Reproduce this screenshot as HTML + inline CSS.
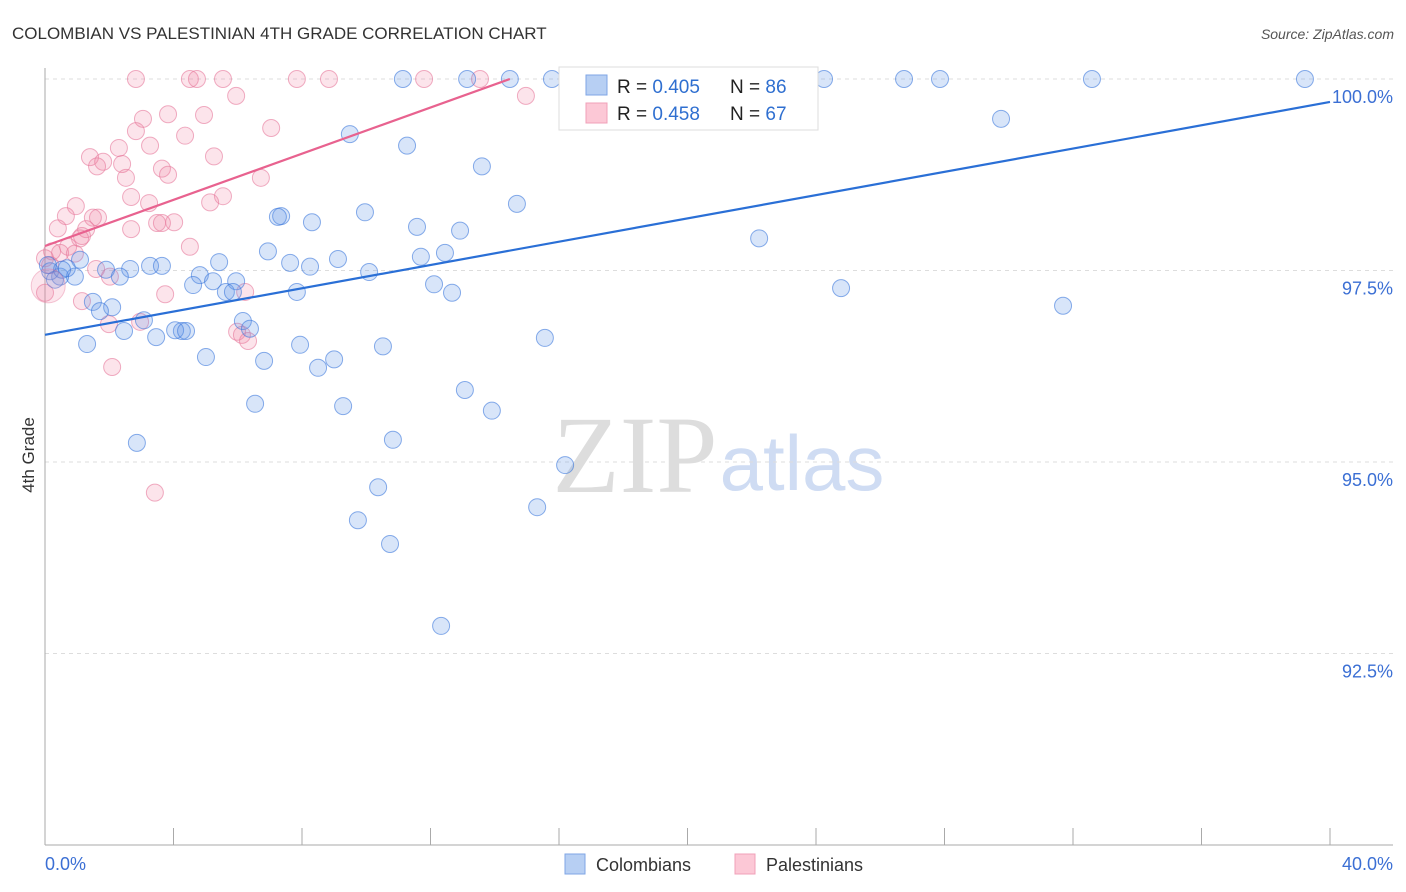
<!DOCTYPE html>
<html><head><meta charset="utf-8"><style>
body{margin:0;background:#fff;font-family:"Liberation Sans",sans-serif}
svg{display:block}
</style></head><body>
<svg id="chart" width="1406" height="892">
<text x="12" y="39" font-size="17" fill="#333">COLOMBIAN VS PALESTINIAN 4TH GRADE CORRELATION CHART</text>
<text x="1394" y="39" font-size="14" fill="#555" font-style="italic" text-anchor="end">Source: ZipAtlas.com</text>
<text x="34" y="455" font-size="17" fill="#333" text-anchor="middle" transform="rotate(-90 34 455)">4th Grade</text>
<g>
<text x="635" y="492" font-size="110" fill="#ddd" font-family="Liberation Serif,serif" text-anchor="middle">ZIP</text>
<text x="802" y="490" font-size="78" fill="#cfdcf3" text-anchor="middle">atlas</text>
</g>
<g id="grid"></g><g id="pts"></g><g id="lines"></g>
<g>
<rect x="559" y="67" width="259" height="63" fill="#fff" stroke="#ddd"/>
<rect x="586" y="75" width="21" height="20" fill="#b7cff3" stroke="#7fa6e6"/>
<rect x="586" y="103" width="21" height="20" fill="#fcc8d6" stroke="#f0a0b8"/>
<text x="617" y="93" font-size="19" fill="#222">R = <tspan fill="#2f6fd0">0.405</tspan></text>
<text x="730" y="93" font-size="19" fill="#222">N = <tspan fill="#2f6fd0">86</tspan></text>
<text x="617" y="120" font-size="19" fill="#222">R = <tspan fill="#2f6fd0">0.458</tspan></text>
<text x="730" y="120" font-size="19" fill="#222">N = <tspan fill="#2f6fd0">67</tspan></text>
</g>
<g>
<rect x="565" y="854" width="20" height="20" fill="#b7cff3" stroke="#7fa6e6"/>
<text x="596" y="871" font-size="18" fill="#333">Colombians</text>
<rect x="735" y="854" width="20" height="20" fill="#fcc8d6" stroke="#f0a0b8"/>
<text x="766" y="871" font-size="18" fill="#333">Palestinians</text>
</g>
<text x="45" y="870" font-size="18" fill="#3b6fd4">0.0%</text>
<text x="1393" y="870" font-size="18" fill="#3b6fd4" text-anchor="end">40.0%</text>
</svg>
<script>
const yTicks=[100,97.5,95,92.5];
const yTickLabels=["100.0%","97.5%","95.0%","92.5%"];
const blueX=[11.14,13.14,14.47,15.78,24.25,26.74,27.86,32.59,39.22,29.76,9.49,11.27,13.60,14.69,9.96,7.35,7.25,8.31,11.58,12.92,22.23,6.94,12.45,11.70,9.12,5.42,1.09,3.27,3.64,7.63,8.25,2.65,10.09,1.90,4.82,5.23,5.95,2.33,0.93,0.47,0.16,0.31,0.68,4.61,12.11,7.84,12.67,5.63,5.85,24.78,31.69,1.49,2.09,1.71,3.08,6.16,6.38,4.26,4.05,4.39,2.46,3.46,15.56,1.31,7.94,10.52,5.01,9.00,6.82,8.50,13.07,6.54,9.28,13.91,2.86,10.83,16.19,10.37,15.32,9.74,10.74,12.33,0.53,0.09];
const blueY=[100,100,100,100,100,100,100,100,100,99.48,99.28,99.13,98.86,98.37,98.26,98.21,98.20,98.13,98.07,98.02,97.92,97.75,97.73,97.68,97.65,97.61,97.64,97.56,97.56,97.60,97.55,97.52,97.48,97.51,97.44,97.36,97.36,97.42,97.42,97.42,97.49,97.38,97.53,97.31,97.32,97.22,97.21,97.22,97.22,97.27,97.04,97.09,97.02,96.97,96.85,96.84,96.74,96.71,96.72,96.71,96.71,96.63,96.62,96.54,96.53,96.51,96.37,96.34,96.32,96.23,95.94,95.76,95.73,95.67,95.25,95.29,94.96,94.67,94.41,94.24,93.93,92.86,97.51,97.57];
const pinkX=[2.83,4.51,4.73,5.54,7.84,8.84,11.80,13.54,14.97,5.95,3.83,3.05,4.95,7.04,2.83,4.36,3.27,2.30,5.26,1.40,1.81,2.40,1.62,3.64,3.83,2.52,6.72,2.68,5.54,5.14,3.24,0.96,0.65,1.65,1.49,4.02,3.49,3.64,1.28,2.68,0.40,1.15,1.09,4.51,0.72,0.22,0.47,0.93,0,0.16,1.59,2.02,6.23,3.74,1.15,0,1.99,2.96,5.98,6.13,6.32,2.09,3.42];
const pinkY=[100,100,100,100,100,100,100,100,99.78,99.78,99.54,99.48,99.53,99.36,99.32,99.26,99.13,99.10,98.99,98.98,98.92,98.89,98.86,98.83,98.75,98.71,98.71,98.46,98.47,98.39,98.38,98.34,98.21,98.19,98.19,98.13,98.12,98.12,98.04,98.04,98.05,97.95,97.92,97.81,97.81,97.75,97.73,97.72,97.66,97.57,97.52,97.42,97.22,97.19,97.10,97.21,96.80,96.83,96.70,96.66,96.58,96.24,94.60];
const blueTrend=[[0,96.66],[40,99.70]];
const pinkTrend=[[0,97.82],[14.47,100]];
const NS='http://www.w3.org/2000/svg';
const xs=v=>45+v/40*1285;
const ys=v=>79+(100-v)/2.5*191.5;
function mk(tag,attrs,parent){const e=document.createElementNS(NS,tag);for(const k in attrs)e.setAttribute(k,attrs[k]);parent.appendChild(e);return e;}
const grid=document.getElementById('grid');
yTicks.forEach((t,i)=>{
 const l=mk('line',{x1:45,x2:1393,y1:ys(t),y2:ys(t),stroke:'#ddd','stroke-dasharray':'4,4'},grid);
 
 
 const tx=mk('text',{x:1393,y:ys(t)+24,'font-size':18,fill:'#3b6fd4','text-anchor':'end'},grid);
 tx.textContent=yTickLabels[i];
 
 
});
const ax=mk('line',{x1:45,x2:45,y1:68,y2:845,stroke:'#aaa'},grid);


const bx=mk('line',{x1:45,x2:1393,y1:845,y2:845,stroke:'#aaa'},grid);


for(let p=4;p<=40;p+=4){
 const t=mk('line',{x1:xs(p),x2:xs(p),y1:828,y2:845,stroke:'#aaa'},grid);
 
 
}
const pts=document.getElementById('pts');
pinkX.forEach((x,i)=>{
 const c=mk('circle',{cx:xs(x),cy:ys(pinkY[i]),r:8.5,fill:'rgba(240,130,165,0.22)',stroke:'rgba(230,120,155,0.6)'},pts);
 
 
});
blueX.forEach((x,i)=>{
 const c=mk('circle',{cx:xs(x),cy:ys(blueY[i]),r:8.5,fill:'rgba(100,150,230,0.25)',stroke:'rgba(60,120,220,0.6)'},pts);
 
 
});
const big=mk('circle',{cx:xs(0.1),cy:ys(97.3),r:17,fill:'rgba(240,130,165,0.2)',stroke:'rgba(230,120,155,0.4)'},pts);


const lines=document.getElementById('lines');
const bl=mk('line',{x1:xs(blueTrend[0][0]),y1:ys(blueTrend[0][1]),x2:xs(blueTrend[1][0]),y2:ys(blueTrend[1][1]),stroke:'#2a6fd6','stroke-width':2.2},lines);


const pl=mk('line',{x1:xs(pinkTrend[0][0]),y1:ys(pinkTrend[0][1]),x2:xs(pinkTrend[1][0]),y2:ys(pinkTrend[1][1]),stroke:'#e8628f','stroke-width':2.2},lines);


</script>
</body></html>
